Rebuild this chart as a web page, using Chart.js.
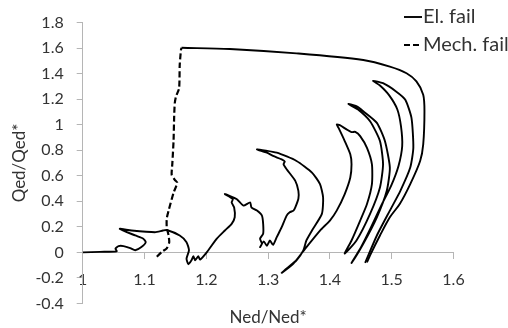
<!DOCTYPE html>
<html lang="en">
<head>
<meta charset="UTF-8">
<title>Qed/Qed* vs Ned/Ned*</title>
<script src="https://cdn.jsdelivr.net/npm/chart.js"></script>
<style>
  html, body { margin: 0; padding: 0; background: #fff; }
  .wrap { width: 508px; height: 328px; }
</style>
</head>
<body>
<div class="wrap"><canvas id="chart"></canvas></div>
<script>
// tick values
const xTicks = [1, 1.1, 1.2, 1.3, 1.4, 1.5, 1.6];
const yTicks = [-0.4, -0.2, 0, 0.2, 0.4, 0.6, 0.8, 1, 1.2, 1.4, 1.6, 1.8];

// El. fail path
const elX = [1.000, 1.028, 1.055, 1.053, 1.058, 1.066, 1.077, 1.085, 1.095, 1.102, 1.098, 1.085, 1.060,
  1.079, 1.117, 1.130, 1.136, 1.157, 1.168, 1.172, 1.168, 1.171, 1.176, 1.179, 1.182, 1.187, 1.190,
  1.201, 1.217, 1.230, 1.241, 1.246, 1.245, 1.241, 1.243, 1.230,
  1.249, 1.260, 1.271, 1.273, 1.282, 1.290, 1.292, 1.292, 1.287, 1.290, 1.287, 1.293, 1.298, 1.303,
  1.308, 1.314, 1.322, 1.330, 1.335, 1.341, 1.344, 1.349, 1.349, 1.344, 1.330, 1.325, 1.327, 1.322,
  1.308, 1.298, 1.282,
  1.314, 1.346, 1.371, 1.384, 1.389, 1.387, 1.371, 1.362, 1.357, 1.346, 1.330, 1.322,
  1.341, 1.362, 1.384, 1.400, 1.411, 1.424, 1.433, 1.435, 1.433, 1.424, 1.414, 1.411,
  1.416, 1.427, 1.435, 1.441, 1.449, 1.460, 1.468, 1.468, 1.460, 1.449, 1.435, 1.424,
  1.443, 1.465, 1.481, 1.486, 1.481, 1.465, 1.445, 1.430,
  1.445, 1.454, 1.476, 1.489, 1.497, 1.492, 1.476, 1.454, 1.435,
  1.451, 1.467, 1.483, 1.499, 1.511, 1.517, 1.515, 1.509, 1.496, 1.481, 1.470,
  1.486, 1.507, 1.522, 1.532, 1.535, 1.530, 1.514, 1.497, 1.476, 1.457];
const elY = [0.000, 0.004, 0.008, 0.029, 0.049, 0.049, 0.033, 0.016, 0.041, 0.080, 0.107, 0.132, 0.184,
  0.171, 0.158, 0.171, 0.175, 0.132, 0.080, 0.016, -0.049, -0.093, -0.062, -0.031, -0.062, -0.031, -0.057,
  0.002, 0.107, 0.171, 0.223, 0.275, 0.353, 0.391, 0.418, 0.457,
  0.418, 0.366, 0.391, 0.353, 0.327, 0.288, 0.223, 0.146, 0.107, 0.068, 0.041, 0.086, 0.051, 0.093,
  0.058, 0.119, 0.197, 0.288, 0.314, 0.327, 0.353, 0.420, 0.482, 0.560, 0.651, 0.690, 0.712, 0.729,
  0.755, 0.781, 0.807,
  0.781, 0.716, 0.625, 0.535, 0.430, 0.301, 0.171, 0.093, 0.016, -0.062, -0.127, -0.161,
  -0.088, 0.041, 0.171, 0.249, 0.327, 0.457, 0.586, 0.690, 0.768, 0.872, 0.975, 1.002,
  0.996, 0.963, 0.942, 0.944, 0.911, 0.819, 0.690, 0.535, 0.379, 0.249, 0.093, -0.010,
  0.093, 0.301, 0.508, 0.690, 0.872, 1.027, 1.121, 1.162,
  1.140, 1.105, 1.014, 0.872, 0.664, 0.482, 0.275, 0.068, -0.083,
  0.047, 0.202, 0.366, 0.521, 0.677, 0.833, 0.988, 1.121, 1.230, 1.307, 1.344,
  1.325, 1.261, 1.196, 1.053, 0.819, 0.664, 0.482, 0.327, 0.132, -0.083];

// outer El. fail curve starting at the top of the Mech. fail line
const envX = [1.160, 1.238, 1.346, 1.454, 1.497, 1.524, 1.540, 1.551, 1.553, 1.551, 1.546, 1.530, 1.513, 1.497, 1.481, 1.465, 1.460];
const envY = [1.603, 1.593, 1.559, 1.507, 1.455, 1.403, 1.339, 1.235, 1.105, 0.846, 0.716, 0.535, 0.379, 0.275, 0.132, -0.023, -0.078];

// Mech. fail
const mechX = [1.120, 1.128, 1.136, 1.140, 1.139, 1.136, 1.136, 1.139, 1.147, 1.153, 1.149, 1.144, 1.145, 1.147, 1.148, 1.149, 1.151, 1.156, 1.157, 1.159, 1.160];
const mechY = [-0.035, 0.004, 0.031, 0.078, 0.132, 0.195, 0.265, 0.327, 0.467, 0.545, 0.568, 0.607, 0.693, 0.872, 1.066, 1.170, 1.222, 1.286, 1.468, 1.585, 1.603];

const pts = (xs, ys) => xs.map((x, i) => ({ x: x, y: ys[i] }));

const textColor = '#333';
const axisGrey = '#b5b5b5';
const fam = 'Lato, "Open Sans", sans-serif';

const legendBox = {
  id: 'legendBox',
  afterDraw(chart) {
    const ctx = chart.ctx;
    const items = chart.data.datasets.filter(d => d.inLegend);
    ctx.save();
    ctx.font = '20px ' + fam;
    ctx.textBaseline = 'middle';
    ctx.fillStyle = textColor;
    items.forEach((d, i) => {
      const y = 17 + i * 28;
      ctx.beginPath();
      ctx.strokeStyle = d.borderColor;
      ctx.lineWidth = d.borderWidth;
      ctx.setLineDash(d.borderDash || []);
      ctx.moveTo(404, y);
      ctx.lineTo(422, y);
      ctx.stroke();
      ctx.setLineDash([]);
      ctx.fillText(d.label, 423, y);
    });
    ctx.restore();
  }
};

new Chart(document.getElementById('chart'), {
  type: 'scatter',
  data: {
    datasets: [
      { label: 'El. fail', inLegend: true, data: pts(elX, elY), showLine: true, borderColor: '#000',
        borderWidth: 1.9, pointRadius: 0, tension: 0.2 },
      { label: 'El. fail (outer)', data: pts(envX, envY), showLine: true, borderColor: '#000',
        borderWidth: 1.9, pointRadius: 0, tension: 0.3 },
      { label: 'Mech. fail', inLegend: true, data: pts(mechX, mechY), showLine: true, borderColor: '#000',
        borderWidth: 2.2, borderDash: [6, 3], pointRadius: 0, tension: 0.2 }
    ]
  },
  options: {
    responsive: true,
    maintainAspectRatio: false,
    animation: false,
    layout: { padding: { top: 20.7, right: 54.5, left: 0, bottom: 0 } },
    plugins: { legend: { display: false }, tooltip: { enabled: false } },
    scales: {
      x: {
        type: 'linear', min: 1, max: 1.6, position: { y: 0 },
        afterBuildTicks: s => { s.ticks = xTicks.map(v => ({ value: v })); },
        afterFit: s => { s.height = 0; },
        grid: { drawOnChartArea: false, tickLength: 6, color: axisGrey },
        border: { color: axisGrey },
        ticks: { padding: 12, color: textColor, font: { family: fam, size: 16 }, callback: v => String(v) }
      },
      x2: {
        type: 'linear', min: 1, max: 1.6, position: 'bottom',
        afterFit: s => { s.height = 24.6; },
        grid: { display: false },
        border: { display: false },
        ticks: { display: false },
        title: { display: true, text: 'Ned/Ned*', color: textColor, font: { family: fam, size: 17 }, padding: 0 }
      },
      y: {
        type: 'linear', min: -0.4, max: 1.8,
        afterBuildTicks: s => { s.ticks = yTicks.map(v => ({ value: v })); },
        afterFit: s => { s.width = 82.7; },
        grid: { drawOnChartArea: false, tickLength: 6, color: axisGrey },
        border: { color: axisGrey },
        ticks: { padding: 13, color: textColor, font: { family: fam, size: 16 }, callback: v => String(v) },
        title: { display: true, text: 'Qed/Qed*', color: textColor, font: { family: fam, size: 17 }, padding: { top: 9, bottom: 0 } }
      }
    }
  },
  plugins: [legendBox]
});
</script>
</body>
</html>
